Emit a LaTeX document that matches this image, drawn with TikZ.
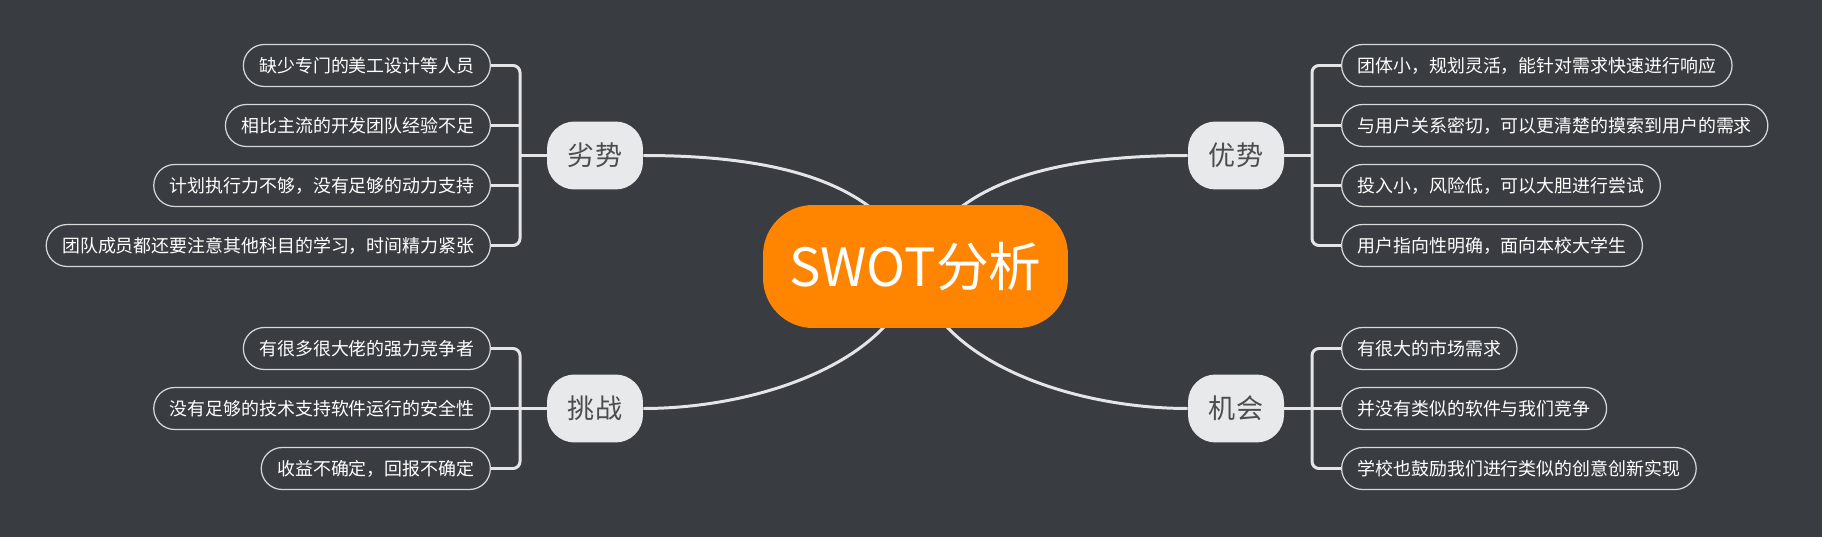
\documentclass[tikz,border=0pt]{standalone}
\usepackage{fontspec}
\setmainfont{Noto Sans CJK SC}
\usepackage{xcolor}
\usepackage{tikz}
\usetikzlibrary{backgrounds}
\definecolor{bgcol}{RGB}{57,61,66}
\definecolor{rootcol}{RGB}{255,133,0}
\definecolor{maincol}{RGB}{232,233,235}
\definecolor{maintext}{RGB}{77,77,77}
\definecolor{linecol}{RGB}{228,229,231}
\definecolor{leafline}{RGB}{215,216,218}
\tikzset{
	root node/.style={rectangle,fill=rootcol,text=white,rounded corners=1cm,
		minimum width=6.1cm,minimum height=2.46cm,font=\fontsize{30pt}{32pt}\selectfont},
	main node/.style={rectangle,fill=maincol,text=maintext,rounded corners=0.55cm,
		minimum width=1.92cm,minimum height=1.36cm,font=\fontsize{15.4pt}{17pt}\selectfont},
	leaf node/.style={rectangle,draw=leafline,line width=0.7pt,text=white,rounded corners=0.42cm,
		minimum height=0.84cm,inner xsep=0.32cm,inner ysep=0pt,font=\fontsize{10.2pt}{12pt}\selectfont},
	branch/.style={draw=linecol,line width=1.7pt,rounded corners=4pt},
	trunk/.style={draw=linecol,line width=1.7pt}
}

\begin{document}
\begin{tikzpicture}[x=0.02cm,y=-0.02cm]
	\useasboundingbox (0,0) rectangle (1822,537);
	\node [root node] (1) at (915.5,266.5) {SWOT分析};
	\node [main node] (2) at (595,155.5) {劣势};
	\node [main node] (3) at (595,408.5) {挑战};
	\node [main node] (4) at (1236,155.5) {优势};
	\node [main node] (5) at (1236,408.5) {机会};
	% spines
	\coordinate (2s) at (520,155.5);
	\coordinate (3s) at (520,408.5);
	\coordinate (4s) at (1312,155.5);
	\coordinate (5s) at (1312,408.5);
	% weaknesses
	\node [leaf node,anchor=east] (6) at (491,65.5) {缺少专门的美工设计等人员};
	\node [leaf node,anchor=east] (7) at (491,125.5) {相比主流的开发团队经验不足};
	\node [leaf node,anchor=east] (8) at (491,185.5) {计划执行力不够，没有足够的动力支持};
	\node [leaf node,anchor=east] (9) at (491,245.5) {团队成员都还要注意其他科目的学习，时间精力紧张};
	% threats
	\node [leaf node,anchor=east] (10) at (491,348.5) {有很多很大佬的强力竞争者};
	\node [leaf node,anchor=east] (11) at (491,408.5) {没有足够的技术支持软件运行的安全性};
	\node [leaf node,anchor=east] (12) at (491,468.5) {收益不确定，回报不确定};
	% strengths
	\node [leaf node,anchor=west] (13) at (1341,65.5) {团体小，规划灵活，能针对需求快速进行响应};
	\node [leaf node,anchor=west] (14) at (1341,125.5) {与用户关系密切，可以更清楚的摸索到用户的需求};
	\node [leaf node,anchor=west] (15) at (1341,185.5) {投入小，风险低，可以大胆进行尝试};
	\node [leaf node,anchor=west] (16) at (1341,245.5) {用户指向性明确，面向本校大学生};
	% opportunities
	\node [leaf node,anchor=west] (17) at (1341,348.5) {有很大的市场需求};
	\node [leaf node,anchor=west] (18) at (1341,408.5) {并没有类似的软件与我们竞争};
	\node [leaf node,anchor=west] (19) at (1341,468.5) {学校也鼓励我们进行类似的创意创新实现};

	\draw [branch] (2.west) -- (2s);
	\draw [branch] (6.east) -| (2s) |- (9.east);
	\draw [branch] (7.east) -- (7.east -| 2s);
	\draw [branch] (8.east) -- (8.east -| 2s);

	\draw [branch] (3.west) -- (3s);
	\draw [branch] (10.east) -| (3s) |- (12.east);
	\draw [branch] (11.east) -- (3s);

	\draw [branch] (4.east) -- (4s);
	\draw [branch] (13.west) -| (4s) |- (16.west);
	\draw [branch] (14.west) -- (14.west -| 4s);
	\draw [branch] (15.west) -- (15.west -| 4s);

	\draw [branch] (5.east) -- (5s);
	\draw [branch] (17.west) -| (5s) |- (19.west);
	\draw [branch] (18.west) -- (5s);

	\begin{pgfonlayer}{background}
		\fill [bgcol] (0,0) rectangle (1822,537);
		\draw [trunk] (1.center) .. controls +(-35,-91) and +(117,0) .. (2.east);
		\draw [trunk] (1.center) .. controls +(-15.5,93.5) and +(117,0) .. (3.east);
		\draw [trunk] (1.center) .. controls +(35,-91) and +(-117,0) .. (4.west);
		\draw [trunk] (1.center) .. controls +(15.5,93.5) and +(-117,0) .. (5.west);
	\end{pgfonlayer}
\end{tikzpicture}
\end{document}
